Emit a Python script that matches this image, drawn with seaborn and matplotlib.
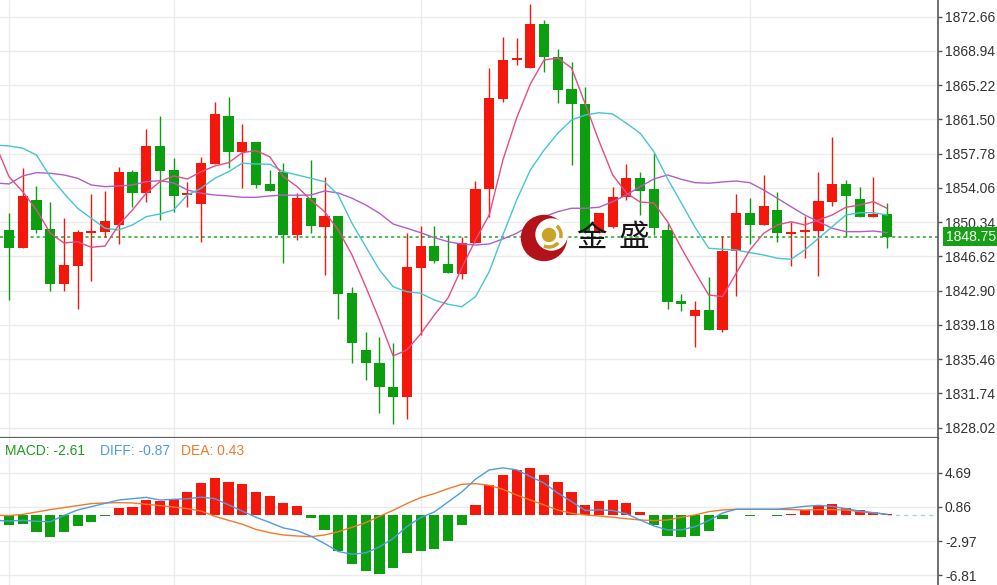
import numpy as np
import pandas as pd
import seaborn as sns
import matplotlib
matplotlib.use('Agg')
import matplotlib.pyplot as plt
from matplotlib.patches import Circle, Arc
from matplotlib.transforms import blended_transform_factory

# bar index (-1 is the partly hidden candle at the left edge)
bars = list(range(-1, 65))

opens = [1857.80, 1849.49, 1847.50, 1852.71, 1849.56, 1843.59, 1845.62, 1849.20, 1849.31, 1850.03,
         1855.75, 1853.47, 1858.61, 1855.97, 1853.33, 1852.35, 1856.66, 1861.91, 1857.92, 1859.08,
         1854.48, 1855.82, 1848.91, 1853.00, 1849.85, 1851.01, 1842.61, 1836.45, 1835.08, 1832.40,
         1831.31, 1845.40, 1847.75, 1845.80, 1844.71, 1848.04, 1853.98, 1863.68, 1867.95, 1867.12,
         1871.86, 1868.32, 1864.77, 1863.14, 1849.13, 1849.85, 1853.04, 1855.10, 1853.91, 1849.49,
         1841.78, 1840.15, 1840.80, 1838.63, 1847.24, 1851.37, 1850.03, 1851.66, 1849.02, 1849.23,
         1849.42, 1852.49, 1854.48, 1852.89, 1850.86, 1851.19]
highs = [1858.60, 1851.37, 1856.19, 1854.27, 1852.57, 1850.76, 1849.49, 1853.36, 1853.76, 1856.37,
         1856.03, 1860.46, 1861.91, 1857.27, 1854.74, 1857.38, 1863.43, 1863.90, 1861.00, 1859.08,
         1856.01, 1856.73, 1853.47, 1857.09, 1855.28, 1851.01, 1843.33, 1838.45, 1837.90, 1837.18,
         1849.13, 1849.92, 1849.92, 1848.95, 1848.77, 1854.85, 1867.05, 1870.49, 1870.31, 1874.04,
         1872.30, 1869.11, 1867.77, 1865.06, 1851.30, 1854.12, 1856.66, 1855.82, 1857.89, 1850.29,
         1842.54, 1841.78, 1844.42, 1848.84, 1853.40, 1852.93, 1855.46, 1853.65, 1850.40, 1851.01,
         1855.82, 1859.63, 1854.92, 1854.19, 1855.21, 1852.46]
lows = [1848.90, 1841.89, 1847.50, 1849.13, 1842.86, 1842.86, 1840.87, 1843.95, 1848.69, 1847.97,
        1852.02, 1852.57, 1850.57, 1851.41, 1852.02, 1848.22, 1856.66, 1856.26, 1854.01, 1854.01,
        1853.76, 1845.87, 1848.40, 1849.13, 1844.56, 1839.79, 1835.08, 1833.20, 1829.65, 1828.42,
        1828.92, 1838.08, 1845.87, 1844.78, 1844.13, 1848.04, 1850.94, 1863.43, 1867.41, 1867.12,
        1866.69, 1863.25, 1856.55, 1849.13, 1849.13, 1849.67, 1852.75, 1851.12, 1848.95, 1840.87,
        1840.73, 1836.82, 1838.63, 1838.45, 1842.32, 1847.97, 1850.03, 1848.22, 1845.58, 1846.41,
        1844.49, 1852.13, 1848.69, 1850.86, 1850.86, 1847.50]
closes = [1849.50, 1847.50, 1853.22, 1849.49, 1843.59, 1845.69, 1849.23, 1849.38, 1850.47, 1855.75,
          1853.47, 1858.61, 1855.90, 1853.22, 1853.54, 1856.80, 1862.05, 1857.92, 1859.08, 1854.34,
          1853.76, 1848.91, 1852.93, 1849.96, 1851.01, 1842.50, 1837.18, 1835.01, 1832.40, 1831.39,
          1845.43, 1847.75, 1846.16, 1844.78, 1848.11, 1853.98, 1863.83, 1867.95, 1868.21, 1871.86,
          1868.24, 1864.69, 1863.14, 1849.13, 1851.30, 1853.11, 1855.17, 1853.76, 1849.74, 1841.70,
          1841.45, 1840.80, 1838.63, 1847.24, 1851.30, 1850.03, 1852.10, 1849.13, 1849.23, 1849.49,
          1852.64, 1854.48, 1853.18, 1850.86, 1851.23, 1848.75]

ma5 = [1858.83, 1855.28, 1853.65, 1851.67, 1849.17, 1848.08, 1848.22, 1847.61, 1847.75, 1850.04,
       1851.67, 1853.48, 1854.74, 1855.36, 1855.03, 1855.82, 1856.44, 1856.80, 1857.89, 1858.11,
       1857.45, 1855.28, 1854.20, 1852.75, 1851.48, 1849.49, 1846.78, 1843.33, 1839.72, 1835.81,
       1836.46, 1838.20, 1840.26, 1842.11, 1845.37, 1848.41, 1851.12, 1857.10, 1861.66, 1865.35,
       1867.96, 1868.17, 1867.09, 1863.18, 1859.16, 1855.47, 1853.51, 1852.53, 1852.43, 1850.39,
       1847.54, 1844.93, 1842.43, 1842.25, 1844.79, 1847.32, 1849.13, 1850.04, 1850.39, 1850.04,
       1850.58, 1851.12, 1851.96, 1852.21, 1852.57, 1851.85]
ma10 = [1858.72, 1858.62, 1858.37, 1857.64, 1855.28, 1853.48, 1851.85, 1850.76, 1849.68, 1849.49,
        1850.04, 1850.94, 1851.23, 1851.67, 1853.29, 1854.02, 1855.11, 1855.82, 1856.74, 1856.66,
        1856.63, 1855.82, 1855.47, 1855.11, 1854.74, 1853.29, 1850.22, 1847.68, 1845.15, 1843.33,
        1842.79, 1842.62, 1841.89, 1841.42, 1841.16, 1842.25, 1844.96, 1848.95, 1852.75, 1856.01,
        1858.18, 1860.00, 1861.44, 1861.98, 1862.23, 1862.09, 1861.08, 1860.00, 1858.00, 1855.06,
        1852.43, 1849.79, 1847.51, 1847.40, 1847.32, 1847.03, 1846.78, 1846.42, 1846.31, 1847.32,
        1848.59, 1849.85, 1851.12, 1851.37, 1851.37, 1851.12]
ma20 = [1854.60, 1854.49, 1855.36, 1855.72, 1855.65, 1855.47, 1855.11, 1854.38, 1854.20, 1854.27,
        1854.38, 1854.74, 1854.85, 1854.60, 1853.84, 1853.48, 1853.29, 1853.19, 1853.04, 1853.04,
        1853.19, 1853.29, 1853.26, 1853.29, 1853.73, 1853.51, 1852.94, 1852.21, 1851.31, 1850.14,
        1849.68, 1849.20, 1848.66, 1848.22, 1847.97, 1847.86, 1847.97, 1848.52, 1849.13, 1850.04,
        1850.94, 1851.48, 1851.85, 1851.85, 1851.96, 1852.57, 1853.29, 1854.20, 1855.03, 1855.47,
        1855.00, 1854.63, 1854.57, 1854.71, 1854.81, 1854.63, 1853.84, 1852.94, 1852.02, 1851.12,
        1850.39, 1849.68, 1849.31, 1849.31, 1849.38, 1849.20]

macd = [-0.98, -1.20, -1.10, -2.00, -2.55, -1.92, -1.28, -0.87, -0.20, 0.70,
        0.89, 1.64, 1.53, 1.75, 2.57, 3.50, 4.15, 3.63, 3.44, 2.57,
        2.09, 1.34, 0.97, -0.35, -1.73, -4.06, -5.55, -6.34, -6.67, -6.03,
        -4.28, -4.06, -3.87, -2.97, -1.17, 1.08, 3.30, 4.44, 4.96, 5.22,
        4.47, 3.61, 2.56, 1.06, 1.53, 1.61, 1.31, 0.29, -1.12, -2.35,
        -2.51, -2.40, -1.83, -0.49, -0.05, -0.10, -0.05, -0.15, 0.10, 0.48,
        0.93, 1.16, 0.79, 0.48, 0.34, 0.05]
diff = [-0.64, -0.72, -0.64, -0.75, -0.80, -0.10, 0.52, 0.89, 1.27, 1.64,
        1.79, 1.94, 1.64, 1.72, 1.78, 1.97, 1.79, 1.10, 0.40, -0.30,
        -0.88, -1.50, -1.80, -2.42, -3.25, -4.15, -4.45, -4.30, -3.62, -2.68,
        -1.34, -0.34, 0.30, 1.42, 2.54, 3.98, 5.02, 5.25, 5.03, 4.28,
        3.54, 2.42, 1.47, 0.46, 0.54, 0.46, 0.09, -0.60, -1.27, -1.72,
        -1.72, -1.35, -0.67, 0.18, 0.60, 0.60, 0.60, 0.60, 0.75, 0.93,
        1.04, 0.93, 0.67, 0.40, 0.22, 0.03]
dea = [-0.08, -0.11, 0.03, 0.29, 0.56, 0.79, 1.01, 1.24, 1.31, 1.35,
       1.31, 1.16, 1.01, 0.85, 0.67, 0.40, -0.19, -0.64, -1.08, -1.66,
       -2.03, -2.29, -2.40, -2.48, -2.29, -1.92, -1.43, -0.90, -0.19, 0.48,
       1.24, 1.91, 2.36, 2.92, 3.40, 3.48, 3.30, 2.84, 2.20, 1.64,
       1.08, 0.52, 0.15, -0.04, -0.15, -0.30, -0.46, -0.60, -0.67, -0.60,
       -0.30, -0.04, 0.33, 0.52, 0.60, 0.60, 0.60, 0.60, 0.56, 0.52,
       0.56, 0.56, 0.52, 0.33, 0.20, 0.03]

price_ticks = [1872.66, 1868.94, 1865.22, 1861.50, 1857.78, 1854.06, 1850.34,
               1846.62, 1842.90, 1839.18, 1835.46, 1831.74, 1828.02]
macd_ticks = [4.69, 0.86, -2.97, -6.81]
time_grid = [0, 12, 30, 42, 54]
last_price = 1848.75

sns.set_style('white')
plt.rcParams['font.family'] = ['Liberation Sans', 'Noto Sans CJK SC', 'DejaVu Sans']
plt.rcParams['axes.unicode_minus'] = False

RED = '#f4170c'
GREEN = '#0b9e0f'
GRID = '#ebebeb'
AXC = '#555555'

fig = plt.figure(figsize=(9.97, 5.85), dpi=100)
ax = fig.add_axes([0, 147 / 585, 938 / 997, 438 / 585])
ax2 = fig.add_axes([0, 0, 938 / 997, 147 / 585])
xlim = (-0.656, 67.71)

# candles
cols = [RED if c >= o else GREEN for o, c in zip(opens, closes)]
body_low = np.minimum(opens, closes)
body_h = np.maximum(np.abs(np.subtract(closes, opens)), 0.2)
ax.axhline(last_price, color='#22a822', ls=(0, (2, 2)), lw=1.1, zorder=2)
ax.vlines(bars, lows, highs, colors=cols, lw=1.0, zorder=3)
ax.bar(bars, body_h, bottom=body_low, width=0.74, color=cols, linewidth=0, zorder=4)

ma = pd.DataFrame({'bar': bars, 'MA5': ma5, 'MA10': ma10, 'MA20': ma20})
for name, col in [('MA20', '#b35ec8'), ('MA10', '#45c5d5'), ('MA5', '#e64c86')]:
    sns.lineplot(data=ma, x='bar', y=name, color=col, lw=1.0, ax=ax, zorder=5)

ax.set_xlim(*xlim)
ax.set_ylim(1826.90, 1874.47)
ax.set_yticks(price_ticks)
ax.set_yticklabels(['%.2f' % t for t in price_ticks])
ax.set_xticks(time_grid)
ax.grid(True, color=GRID, lw=1)
ax.set_axisbelow(True)
ax.set_xlabel('')
ax.set_ylabel('')
ax.yaxis.tick_right()
ax.tick_params(axis='y', direction='out', length=3, width=1, color=AXC,
               labelsize=10, labelcolor='#333333', pad=2)
ax.tick_params(axis='x', length=0, labelbottom=False)
for s in ['left', 'top']:
    ax.spines[s].set_visible(False)
ax.spines['right'].set_color(AXC)
ax.spines['right'].set_linewidth(1.2)
ax.spines['bottom'].set_color('#606060')
ax.spines['bottom'].set_linewidth(1.6)

tr = blended_transform_factory(ax.transAxes, ax.transData)
ax.text(1.0085, last_price, '%.2f' % last_price, transform=tr, ha='left', va='center',
        fontsize=10, color='white', clip_on=False, zorder=10,
        bbox=dict(boxstyle='square,pad=0.18', fc='#15a015', ec='none'))

# MACD panel
mcols = [RED if v >= 0 else GREEN for v in macd]
ax2.bar(bars, macd, width=0.74, color=mcols, linewidth=0, zorder=3)
md = pd.DataFrame({'bar': bars, 'DIFF': diff, 'DEA': dea})
sns.lineplot(data=md, x='bar', y='DEA', color='#f4792a', lw=1.0, ax=ax2, zorder=5)
sns.lineplot(data=md, x='bar', y='DIFF', color='#4d9de0', lw=1.0, ax=ax2, zorder=6)
ax2.hlines(0, bars[-1], xlim[1], colors='#a6d6e4', linestyles=(0, (3, 3)), lw=1.0)

ax2.set_xlim(*xlim)
ax2.set_ylim(-7.91, 8.61)
ax2.set_yticks(macd_ticks)
ax2.set_yticklabels(['%.2f' % t for t in macd_ticks])
ax2.set_xticks(time_grid)
ax2.grid(True, color=GRID, lw=1)
ax2.set_axisbelow(True)
ax2.set_xlabel('')
ax2.set_ylabel('')
ax2.yaxis.tick_right()
ax2.tick_params(axis='y', direction='out', length=3, width=1, color=AXC,
                labelsize=10, labelcolor='#333333', pad=2)
ax2.tick_params(axis='x', length=0, labelbottom=False)
for s in ['left', 'top', 'bottom']:
    ax2.spines[s].set_visible(False)
ax2.spines['right'].set_color(AXC)
ax2.spines['right'].set_linewidth(1.2)

ly = 1 - 451 / 585
fig.text(5 / 997, ly, 'MACD: -2.61', color='#1f9b1f', fontsize=10, va='center')
fig.text(100 / 997, ly, 'DIFF: -0.87', color='#4d9de0', fontsize=10, va='center')
fig.text(181 / 997, ly, 'DEA: 0.43', color='#f4792a', fontsize=10, va='center')

# watermark logo
lg = fig.add_axes([520 / 997, 1 - 262 / 585, 135 / 997, 50 / 585])
lg.set_xlim(520, 655)
lg.set_ylim(262, 212)
lg.axis('off')
lg.add_patch(Circle((544, 238), 22.5, color='#b3121b', zorder=1))
lg.add_patch(Circle((551.5, 234.5), 15.5, color='white', zorder=2))
lg.add_patch(Circle((549, 235), 6.5, color='#c9a227', zorder=3))
lg.add_patch(Arc((549, 235), 24, 24, theta1=40, theta2=115, color='#c9a227', lw=2.5, zorder=3))
lg.add_patch(Arc((549, 235), 24, 24, theta1=-50, theta2=15, color='#c9a227', lw=2.5, zorder=3))
lg.text(591, 238, '金', fontsize=22, ha='center', va='center', color='#151515',
        family=['Noto Sans CJK SC', 'DejaVu Sans'], zorder=4)
lg.text(634, 238, '盛', fontsize=22, ha='center', va='center', color='#151515',
        family=['Noto Sans CJK SC', 'DejaVu Sans'], zorder=4)

fig.savefig('out.png', dpi=100)
